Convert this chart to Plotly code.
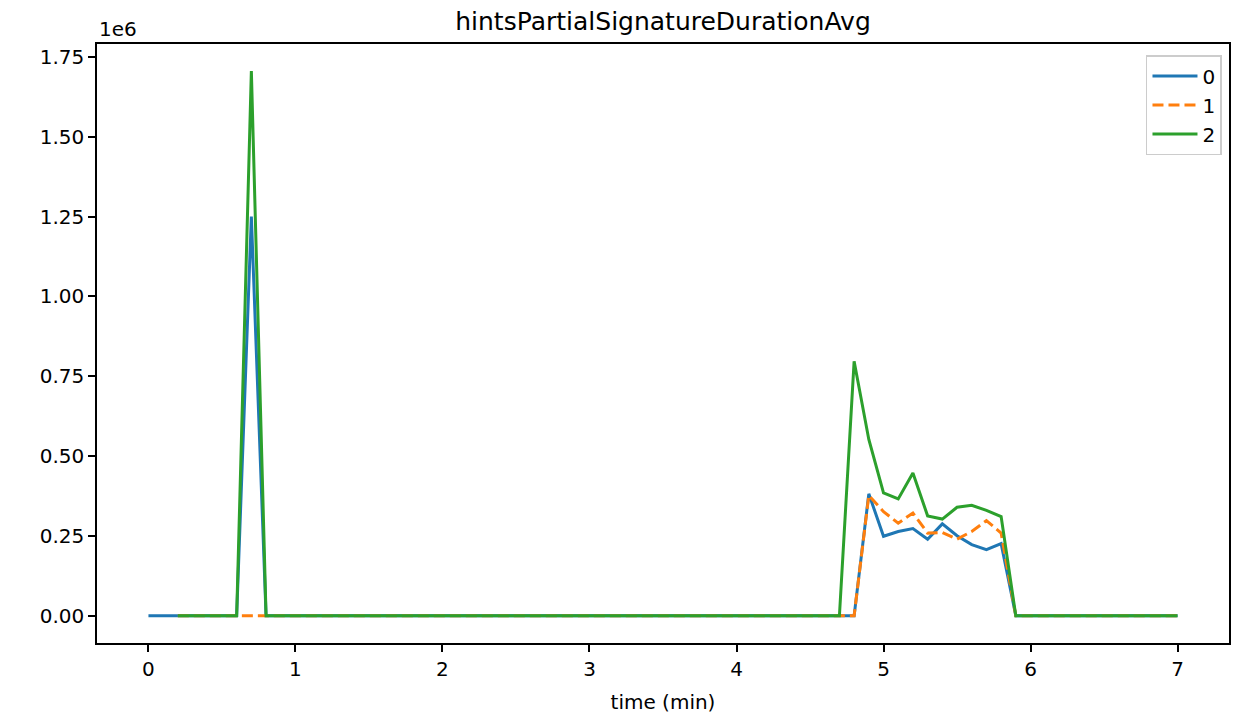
import plotly.graph_objects as go

# time grid (minutes)
time_blue = [round(i * 0.1, 1) for i in range(0, 71)]
time_other = [round(i * 0.1, 1) for i in range(2, 71)]

# series values (raw units)
series_0 = [
    0, 0, 0, 0, 0, 0, 0, 1250000, 0, 0,          # 0.0 - 0.9
    0, 0, 0, 0, 0, 0, 0, 0, 0, 0,                # 1.0 - 1.9
    0, 0, 0, 0, 0, 0, 0, 0, 0, 0,                # 2.0 - 2.9
    0, 0, 0, 0, 0, 0, 0, 0, 0, 0,                # 3.0 - 3.9
    0, 0, 0, 0, 0, 0, 0, 0, 0, 382000,           # 4.0 - 4.9
    249000, 264000, 273000, 240000, 288000, 251000, 223000, 207000, 226000, 0,  # 5.0 - 5.9
    0, 0, 0, 0, 0, 0, 0, 0, 0, 0,                # 6.0 - 6.9
    0,                                           # 7.0
]
series_1 = [
    0, 0, 0, 0, 0, 0, 0, 0,                      # 0.2 - 0.9
    0, 0, 0, 0, 0, 0, 0, 0, 0, 0,                # 1.0 - 1.9
    0, 0, 0, 0, 0, 0, 0, 0, 0, 0,                # 2.0 - 2.9
    0, 0, 0, 0, 0, 0, 0, 0, 0, 0,                # 3.0 - 3.9
    0, 0, 0, 0, 0, 0, 0, 0, 0, 377000,           # 4.0 - 4.9
    326000, 290000, 322000, 259000, 261000, 240000, 264000, 298000, 259000, 0,  # 5.0 - 5.9
    0, 0, 0, 0, 0, 0, 0, 0, 0, 0,                # 6.0 - 6.9
    0,                                           # 7.0
]
series_2 = [
    0, 0, 0, 0, 0, 1705000, 0, 0,                # 0.2 - 0.9
    0, 0, 0, 0, 0, 0, 0, 0, 0, 0,                # 1.0 - 1.9
    0, 0, 0, 0, 0, 0, 0, 0, 0, 0,                # 2.0 - 2.9
    0, 0, 0, 0, 0, 0, 0, 0, 0, 0,                # 3.0 - 3.9
    0, 0, 0, 0, 0, 0, 0, 0, 797000, 552000,      # 4.0 - 4.9
    385000, 366000, 447000, 313000, 303000, 340000, 346000, 330000, 311000, 0,  # 5.0 - 5.9
    0, 0, 0, 0, 0, 0, 0, 0, 0, 0,                # 6.0 - 6.9
    0,                                           # 7.0
]

x_ticks = [0, 1, 2, 3, 4, 5, 6, 7]
y_ticks = [0, 250000, 500000, 750000, 1000000, 1250000, 1500000, 1750000]
y_tick_labels = ["0.00", "0.25", "0.50", "0.75", "1.00", "1.25", "1.50", "1.75"]

FONT = "DejaVu Sans"
W, H = 1234, 720

fig = go.Figure()
fig.add_trace(go.Scatter(x=time_blue, y=series_0, mode="lines", name="0",
                         line=dict(color="#1f77b4", width=3)))
fig.add_trace(go.Scatter(x=time_other, y=series_1, mode="lines", name="1",
                         line=dict(color="#ff7f0e", width=3, dash="11px,5px")))
fig.add_trace(go.Scatter(x=time_other, y=series_2, mode="lines", name="2",
                         line=dict(color="#2ca02c", width=3)))

axis_common = dict(showgrid=False, zeroline=False, showline=True, linecolor="black",
                   linewidth=1.6, mirror=True, ticks="outside", ticklen=7,
                   tickcolor="black", tickwidth=1.6, automargin=False,
                   tickfont=dict(family=FONT, size=20, color="black"))

fig.update_layout(
    width=W, height=H,
    paper_bgcolor="white", plot_bgcolor="white",
    margin=dict(l=97, r=5, t=44, b=77),
    font=dict(family=FONT, size=20, color="black"),
    title=dict(text="hintsPartialSignatureDurationAvg", x=0.5, xanchor="center",
               xref="paper", y=1 - 21 / H, yanchor="middle",
               font=dict(family=FONT, size=25, color="black")),
    xaxis=dict(range=[-0.35, 7.35], tickvals=x_ticks,
               title=dict(text="time (min)", font=dict(family=FONT, size=20, color="black"),
                          standoff=15),
               **axis_common),
    yaxis=dict(range=[-85000, 1790000], tickvals=y_ticks, ticktext=y_tick_labels,
               **axis_common),
    legend=dict(x=0.9938, y=0.9816, xanchor="right", yanchor="top",
                bgcolor="rgba(255,255,255,0.8)", bordercolor="#cccccc", borderwidth=1.5,
                font=dict(family=FONT, size=20, color="black"),
                itemwidth=45),
    annotations=[dict(text="1e6", xref="paper", yref="paper", x=0, y=1,
                      xanchor="left", yanchor="bottom", yshift=1, showarrow=False,
                      font=dict(family=FONT, size=20, color="black"))],
    showlegend=True,
)

fig.write_html("out.html",
               config={"displayModeBar": False},
               post_script="document.body.style.margin='0';document.body.style.overflow='hidden';")
